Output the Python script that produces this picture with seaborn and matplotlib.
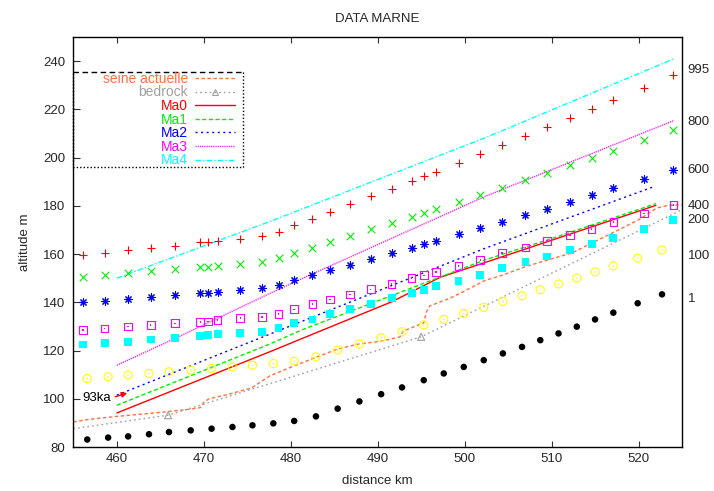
import matplotlib
matplotlib.use("Agg")
import matplotlib.pyplot as plt
from matplotlib.lines import Line2D
import seaborn as sns

# ---------------- data ----------------
title = "DATA MARNE"
x_label = "distance km"
y_label = "altitude m"

# point series sharing the first set of distances
km_a = [456.1, 458.6, 461.3, 463.9, 466.7, 469.6, 470.5, 471.6, 474.2, 476.7,
        478.6, 480.4, 482.5, 484.5, 486.8, 489.2, 491.6, 493.9, 495.3, 496.7,
        499.3, 501.8, 504.3, 507.0, 509.5, 512.1, 514.6, 517.1, 520.6, 524.0]
plus_m = [159.7, 160.6, 161.6, 162.4, 163.5, 164.8, 165.2, 165.5, 166.4, 167.6,
          169.3, 172.0, 174.6, 177.5, 180.7, 183.9, 187.0, 190.3, 192.2, 194.2,
          197.8, 201.5, 205.1, 208.8, 212.6, 216.5, 220.2, 224.0, 228.9, 234.2]
cross_m = [150.6, 151.3, 152.0, 152.9, 153.7, 154.5, 154.7, 155.1, 155.9, 156.9,
           158.3, 160.6, 162.7, 165.1, 167.6, 170.2, 172.8, 175.3, 177.1, 178.7,
           181.6, 184.5, 187.6, 190.7, 193.6, 196.8, 199.9, 202.9, 207.2, 211.3]
star_m = [140.0, 140.7, 141.5, 142.2, 143.0, 143.7, 144.0, 144.3, 145.1, 145.9,
          147.1, 149.3, 151.2, 153.4, 155.5, 158.0, 160.4, 162.6, 164.1, 165.5,
          168.3, 170.8, 173.5, 176.3, 178.8, 181.7, 184.5, 187.2, 191.1, 195.0]
sq_open_m = [128.5, 129.2, 129.9, 130.6, 131.3, 131.9, 132.1, 132.6, 133.4, 134.0,
             135.1, 137.1, 139.2, 141.1, 143.2, 145.4, 147.6, 150.0, 151.2, 152.6,
             155.1, 157.6, 160.4, 162.7, 165.5, 168.0, 170.5, 173.2, 176.8, 180.4]
sq_fill_m = [122.5, 123.0, 123.6, 124.6, 125.3, 126.0, 126.4, 126.8, 127.1, 127.8,
             129.2, 131.3, 132.9, 135.1, 137.2, 139.3, 141.7, 143.7, 145.1, 146.8,
             148.9, 151.3, 154.1, 156.7, 159.0, 161.7, 164.1, 166.8, 170.3, 174.1]

# point series sharing the second set of distances
km_b = [456.6, 459.0, 461.3, 463.7, 466.0, 468.5, 470.9, 473.3, 475.6, 478.0,
        480.4, 482.9, 485.4, 487.9, 490.4, 492.8, 495.3, 497.6, 499.9, 502.2,
        504.4, 506.6, 508.7, 510.8, 512.9, 515.0, 517.1, 519.9, 522.7]
circ_open_m = [108.4, 109.1, 109.8, 110.5, 111.2, 111.9, 112.6, 113.2, 113.9, 114.6,
               115.6, 117.4, 120.2, 122.7, 125.3, 127.8, 130.6, 132.9, 135.4, 137.9,
               140.4, 142.7, 145.2, 147.6, 150.1, 152.6, 155.1, 158.3, 161.7]
dot_m = [83.1, 83.9, 84.4, 85.3, 86.2, 86.9, 87.6, 88.3, 89.0, 89.8,
         90.8, 92.7, 95.9, 98.9, 101.9, 104.7, 107.7, 110.5, 113.2, 116.0,
         118.8, 121.5, 124.3, 127.1, 129.9, 132.9, 135.7, 139.6, 143.3]

# profiles
seine_km = [455.0, 456.7, 460.0, 464.0, 468.0, 469.6, 470.0, 470.6, 473.0, 475.5,
            477.6, 480.3, 483.0, 485.3, 487.8, 490.3, 492.6, 492.9, 495.3, 495.6,
            496.0, 498.5, 499.9, 502.3, 504.4, 507.0, 509.6, 512.3, 514.6, 517.3,
            520.0, 522.1, 523.4, 525.0]
seine_m = [90.4, 91.4, 92.7, 94.0, 95.5, 96.3, 98.5, 100.0, 102.0, 104.5,
           109.5, 113.5, 117.3, 120.5, 122.7, 123.8, 125.7, 128.0, 131.5, 136.0,
           138.5, 142.0, 144.5, 149.0, 151.3, 154.8, 157.6, 160.4, 164.5, 169.3,
           174.2, 179.1, 180.2, 180.4]
bedrock_km = [455.0, 465.9, 495.0, 525.0]
bedrock_m = [87.6, 93.2, 125.7, 178.4]
ma0_km = [460.0, 477.6, 491.6, 493.7, 497.2, 502.35, 522.0]
ma0_m = [94.1, 119.5, 140.2, 144.0, 150.4, 156.5, 180.2]
ma1_km = [460.0, 477.6, 481.1, 502.35, 509.8, 522.0]
ma1_m = [97.3, 122.7, 128.3, 157.6, 166.2, 180.9]
ma2_km = [460.0, 477.6, 502.35, 521.8]
ma2_m = [101.5, 126.8, 162.4, 188.0]
ma3_km = [460.0, 466.7, 477.6, 482.2, 502.35, 524.1]
ma3_m = [113.9, 125.0, 143.7, 151.3, 183.9, 215.4]
ma4_km = [460.0, 477.6, 502.35, 524.1]
ma4_m = [150.0, 173.5, 208.2, 241.0]

legend_labels = ["seine actuelle", "bedrock", "Ma0", "Ma1", "Ma2", "Ma3", "Ma4"]

x_ticks = [460, 470, 480, 490, 500, 510, 520]
y_ticks = [80, 100, 120, 140, 160, 180, 200, 220, 240]
y2_pos = [236.8, 215.4, 195.3, 180.4, 174.9, 160.0, 142.1]
y2_labels = ["995", "800", "600", "400", "200", "100", "1"]

note_text = "93ka"
note_xy = (461.2, 102.4)
note_text_xy = (456.0, 100.2)

# ---------------- style ----------------
sns.set_style("white")
plt.rcParams["font.family"] = ["Liberation Sans", "DejaVu Sans"]
plt.rcParams["font.size"] = 9.5

C_SEINE = "#ff7040"
C_BED = "#a0a0a0"
C_RED = "#ff0000"
C_GREEN = "#00ee00"
C_BLUE = "#0000ff"
C_MAG = "#ff00ff"
C_CYAN = "#00ffff"
C_YEL = "#ffff00"

fig = plt.figure(figsize=(7.14, 4.91), dpi=100)
ax = fig.add_axes([0.1027, 0.0896, 0.8525, 0.835])


def draw_line(xs, ys, color, ls, lw=1.0):
    sns.lineplot(x=xs, y=ys, color=color, linestyle=ls, linewidth=lw,
                 estimator=None, sort=False, ax=ax, legend=False)
    return ax.lines[-1]


def draw_points(xs, ys, marker, color, s, hollow=False, lw=0.8):
    if hollow:
        sns.scatterplot(x=xs, y=ys, marker=marker, color=color, s=s, ax=ax,
                        legend=False, zorder=3)
        coll = ax.collections[-1]
        coll.set_facecolor("none")
        coll.set_edgecolor(color)
        coll.set_linewidth(lw)
    elif marker in ("+", "x") or isinstance(marker, tuple):
        sns.scatterplot(x=xs, y=ys, marker=marker, color=color, s=s, ax=ax,
                        legend=False, linewidth=lw, zorder=3)
    else:
        sns.scatterplot(x=xs, y=ys, marker=marker, color=color, s=s, ax=ax,
                        legend=False, linewidth=0, edgecolor="none", zorder=3)


# profile lines
h_seine = draw_line(seine_km, seine_m, C_SEINE, (0, (2.5, 1.8)))
h_bed_line = draw_line(bedrock_km, bedrock_m, C_BED, (0, (1.2, 2.2)))
draw_points(bedrock_km[1:3], bedrock_m[1:3], "^", C_BED, 26, hollow=True)
h_ma0 = draw_line(ma0_km, ma0_m, C_RED, "-", lw=1.0)
h_ma1 = draw_line(ma1_km, ma1_m, C_GREEN, (0, (3, 1.8)))
h_ma2 = draw_line(ma2_km, ma2_m, C_BLUE, (0, (1.5, 2.5)))
h_ma3 = draw_line(ma3_km, ma3_m, C_MAG, (0, (0.8, 0.8)))
h_ma4 = draw_line(ma4_km, ma4_m, C_CYAN, (0, (4, 1.5, 1, 1.5)))

# terrace points
draw_points(km_a, plus_m, "+", C_RED, 36)
draw_points(km_a, cross_m, "x", C_GREEN, 30)
draw_points(km_a, star_m, (8, 2, 0), C_BLUE, 28)
draw_points(km_a, sq_open_m, "s", C_MAG, 30, hollow=True)
draw_points(km_a, sq_open_m, "s", C_MAG, 1.2)
draw_points(km_a, sq_fill_m, "s", C_CYAN, 32)
draw_points(km_b, circ_open_m, "o", C_YEL, 34, hollow=True)
draw_points(km_b, circ_open_m, "o", C_YEL, 1.2)
draw_points(km_b, dot_m, "o", "black", 22)

# annotation
ax.annotate(note_text, xy=note_xy, xytext=note_text_xy, ha="left", va="center",
            fontsize=9.5, color="black",
            arrowprops=dict(arrowstyle="-|>", color=C_RED, lw=1.0,
                            shrinkA=1, shrinkB=0, mutation_scale=8,
                            relpos=(1.0, 0.5)))

# axes
ax.set_xlim(455, 525)
ax.set_ylim(80, 250)
ax.set_xticks(x_ticks)
ax.set_yticks(y_ticks)
ax.tick_params(axis="x", direction="in", length=4.3, width=0.8, color="#333333",
               top=True, bottom=True, pad=4.5, labelsize=9.5)
ax.tick_params(axis="y", direction="in", length=5, width=0.8, color="#333333",
               left=True, right=True, labelright=False, pad=6, labelsize=9.5)
for sp in ax.spines.values():
    sp.set_color("black")
    sp.set_linewidth(1.0)
    sp.set_visible(True)

ax.set_xlabel(x_label, fontsize=9.5)
ax.xaxis.set_label_coords(0.5, -0.068)
ax.set_ylabel(y_label, fontsize=9.5)
ax.yaxis.set_label_coords(-0.069, 0.5)
ax.set_title(title, fontsize=9.5, pad=10.8)

ax2 = ax.twinx()
ax2.set_ylim(80, 250)
ax2.set_yticks(y2_pos)
ax2.set_yticklabels(y2_labels)
ax2.tick_params(axis="y", length=0, pad=4, labelsize=9.5)
for sp in ax2.spines.values():
    sp.set_visible(False)

# legend (gnuplot style: right-aligned text, sample on the right)
bed_proxy = Line2D([], [], color=C_BED, linestyle=(0, (1.2, 2.2)), lw=1.0,
                   marker="^", markersize=5, markerfacecolor="none",
                   markeredgecolor=C_BED, markeredgewidth=0.8)
handles = [h_seine, bed_proxy, h_ma0, h_ma1, h_ma2, h_ma3, h_ma4]
leg = ax.legend(handles=handles, labels=legend_labels, loc="upper right",
                bbox_to_anchor=(0.2656, 0.9150), markerfirst=False,
                labelcolor="linecolor", frameon=False,
                handlelength=2.85, handletextpad=0.55, labelspacing=-0.03,
                borderpad=0.0, borderaxespad=0.0, fontsize=10, numpoints=1)

# key box: dashed top edge, dotted other edges
box_x0, box_x1, box_y0, box_y1 = 0.0, 0.2788, 0.683, 0.9146
ax.add_line(Line2D([box_x0, box_x1], [box_y1, box_y1], transform=ax.transAxes,
                   color="black", lw=1.0, linestyle=(0, (4, 2.5)), clip_on=False))
ax.add_line(Line2D([box_x1, box_x1, box_x0, box_x0], [box_y1, box_y0, box_y0, box_y1],
                   transform=ax.transAxes, color="black", lw=1.0,
                   linestyle=(0, (1, 1.5)), clip_on=False))

fig.savefig("out.png", dpi=100)
